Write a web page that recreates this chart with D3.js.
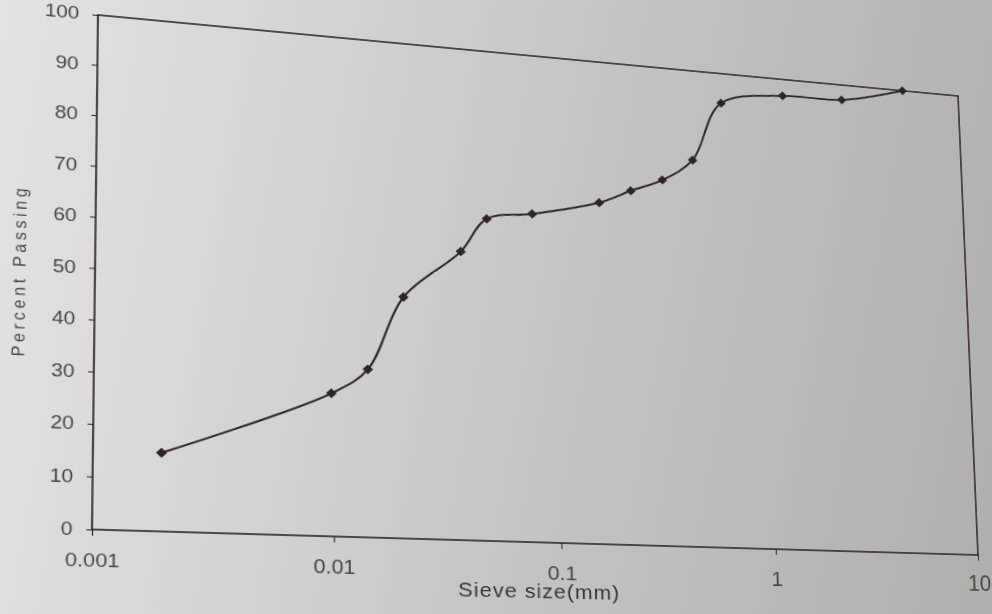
<!DOCTYPE html>
<html>
<head>
<meta charset="utf-8">
<script src="https://cdn.jsdelivr.net/npm/d3@7"></script>
<style>
  html, body { margin: 0; padding: 0; width: 992px; height: 614px; overflow: hidden; }
  body { background: linear-gradient(100deg, #e3e4e2 0%, #d6d7d4 25%, #c2c3bf 60%, #afb0ab 100%); }
  #chart { position: absolute; left: 0; top: 0; transform-origin: 0 0; }
  text { font-family: "Liberation Sans", Arial, sans-serif; }
</style>
</head>
<body>
<svg id="chart" width="992" height="614"></svg>
<script>
// Grain-size distribution: sieve / hydrometer size (mm) vs percent passing
const sieveSize = [0.0019, 0.0098, 0.0141, 0.0203, 0.0367, 0.0483, 0.078, 0.16, 0.226, 0.32, 0.45, 0.63, 1.27, 2.51, 5.15];
const percentPassing = [15.0, 28.0, 33.1, 48.0, 58.0, 65.1, 66.8, 70.2, 73.2, 76.0, 80.8, 93.6, 96.4, 96.7, 100.0];

const xTickValues = [0.001, 0.01, 0.1, 1, 10];
const xTickLabels = ["0.001", "0.01", "0.1", "1", "10"];
const yTickValues = [0, 10, 20, 30, 40, 50, 60, 70, 80, 90, 100];

const xTitle = "Sieve size(mm)";
const yTitle = "Percent Passing";

// Flat layout of the plot area
const plot = { left: 95, top: 15, right: 968, bottom: 530 };
const plotW = plot.right - plot.left, plotH = plot.bottom - plot.top;

// The flat sheet is tilted so the plot frame lands on this quadrilateral
// (top-left, top-right, bottom-right, bottom-left).
const tiltedFrame = [[98, 15], [958, 96], [978, 555], [92, 529.5]];

function solve(A, b) {
  const n = b.length;
  const M = A.map((row, i) => row.concat([b[i]]));
  for (let c = 0; c < n; c++) {
    let p = c;
    for (let r = c + 1; r < n; r++) if (Math.abs(M[r][c]) > Math.abs(M[p][c])) p = r;
    [M[c], M[p]] = [M[p], M[c]];
    for (let r = 0; r < n; r++) {
      if (r === c) continue;
      const f = M[r][c] / M[c][c];
      for (let k = c; k <= n; k++) M[r][k] -= f * M[c][k];
    }
  }
  return M.map((row, i) => row[n] / row[i]);
}

function homography(src, dst) {
  const A = [], b = [];
  src.forEach(([x, y], i) => {
    const [X, Y] = dst[i];
    A.push([x, y, 1, 0, 0, 0, -x * X, -y * X]); b.push(X);
    A.push([0, 0, 0, x, y, 1, -x * Y, -y * Y]); b.push(Y);
  });
  return solve(A, b);
}

const flatFrame = [[plot.left, plot.top], [plot.right, plot.top], [plot.right, plot.bottom], [plot.left, plot.bottom]];
const h = homography(flatFrame, tiltedFrame).map(v => v.toFixed(12));
const svg = d3.select("#chart")
  .style("transform", `matrix3d(${h[0]},${h[3]},0,${h[6]},${h[1]},${h[4]},0,${h[7]},0,0,1,0,${h[2]},${h[5]},0,1)`);

const x = d3.scaleLog().domain([0.001, 10]).range([plot.left, plot.right]);
const y = d3.scaleLinear().domain([0, 100]).range([plot.bottom, plot.top]);

const ink = "#2e2329";
const labelInk = "#46464c";

// Axes
const xAxis = svg.append("g")
  .attr("transform", `translate(0,${plot.bottom})`)
  .call(d3.axisBottom(x).tickValues(xTickValues).tickFormat((d, i) => xTickLabels[i]).tickSize(6).tickPadding(17));
const yAxis = svg.append("g")
  .attr("transform", `translate(${plot.left},0)`)
  .call(d3.axisLeft(y).tickValues(yTickValues).tickSize(5).tickPadding(12));

[xAxis, yAxis].forEach(g => {
  g.select(".domain").remove();
  g.selectAll(".tick line").attr("stroke", ink).attr("stroke-width", 1);
  g.selectAll(".tick text").attr("fill", labelInk)
    .style("font-family", "'Liberation Sans', Arial, sans-serif");
});
// the far side of the tilted sheet shrinks, so labels there are set a little larger
const xLabelSize = d3.scaleLog().domain([0.001, 10]).range([19, 23]);
xAxis.selectAll(".tick text").style("font-size", d => xLabelSize(d) + "px");
yAxis.selectAll(".tick text").style("font-size", "18.5px");

// Plot frame
svg.append("rect")
  .attr("x", plot.left).attr("y", plot.top)
  .attr("width", plotW).attr("height", plotH)
  .attr("fill", "none").attr("stroke", ink).attr("stroke-width", 1.6);

// Grading curve
const pts = sieveSize.map((s, i) => [s, percentPassing[i]]);
svg.append("path")
  .datum(pts)
  .attr("fill", "none")
  .attr("stroke", ink)
  .attr("stroke-width", 2)
  .attr("d", d3.line().x(d => x(d[0])).y(d => y(d[1])).curve(d3.curveCatmullRom.alpha(0.5)));

svg.append("g").selectAll("path")
  .data(pts)
  .join("path")
  .attr("d", d3.symbol(d3.symbolSquare, 50))
  .attr("transform", d => `translate(${x(d[0])},${y(d[1])}) rotate(45)`)
  .attr("fill", ink);

// Axis titles
svg.append("text")
  .attr("x", plot.left + 0.475 * plotW)
  .attr("y", plot.top + 1.11 * plotH)
  .attr("text-anchor", "middle")
  .attr("fill", "#3c3237")
  .style("font-size", "21px")
  .style("letter-spacing", "1px")
  .text(xTitle);

svg.append("text")
  .attr("transform", `translate(${plot.left - 0.0766 * plotW},${plot.top + 0.513 * plotH}) rotate(-90)`)
  .attr("text-anchor", "middle")
  .attr("dy", "0.35em")
  .attr("fill", labelInk)
  .style("font-size", "16px")
  .style("letter-spacing", "3.6px")
  .text(yTitle);
</script>
</body>
</html>
